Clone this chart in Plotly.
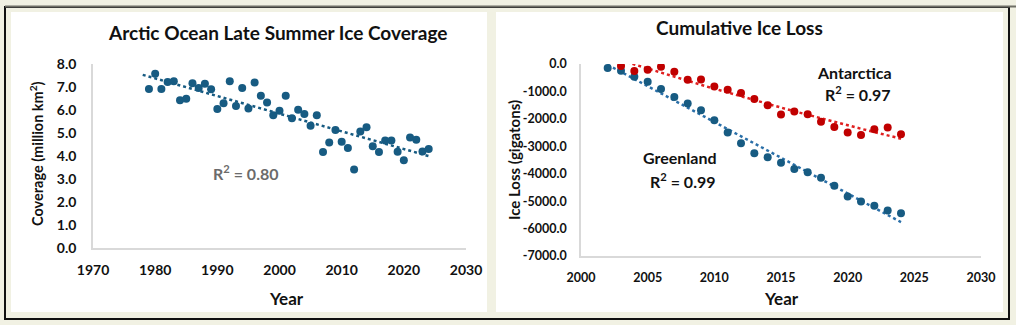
import numpy as np
import plotly.graph_objects as go

# ---------------- data ----------------
arctic_years = list(range(1979, 2025))
arctic_cov = [6.91, 7.58, 6.91, 7.22, 7.25, 6.42, 6.49, 7.16, 6.96, 7.14,
              6.90, 6.04, 6.29, 7.25, 6.17, 6.96, 6.06, 7.20, 6.62, 6.33,
              5.77, 5.97, 6.62, 5.64, 6.01, 5.83, 5.32, 5.77, 4.17, 4.59,
              5.13, 4.62, 4.35, 3.41, 5.07, 5.25, 4.42, 4.17, 4.67, 4.67,
              4.19, 3.81, 4.80, 4.71, 4.20, 4.30]

green_years = list(range(2002, 2025))
green_loss = [-146, -244, -463, -646, -915, -1207, -1439, -1683, -2049, -2500,
              -2890, -3256, -3402, -3598, -3829, -3951, -4146, -4439, -4829,
              -5012, -5171, -5341, -5439]

ant_years = list(range(2003, 2025))
ant_loss = [-73, -256, -207, -98, -280, -573, -561, -817, -939, -1061, -1280,
            -1500, -1841, -1732, -1829, -2110, -2293, -2500, -2585, -2378,
            -2317, -2561]

left_yticks = [0, 1, 2, 3, 4, 5, 6, 7, 8]
left_xticks = [1970, 1980, 1990, 2000, 2010, 2020, 2030]
right_yticks = [0, -1000, -2000, -3000, -4000, -5000, -6000, -7000]
right_xticks = [2000, 2005, 2010, 2015, 2020, 2025, 2030]

# ---------------- styling ----------------
W, H = 1016, 325
BG = "#f1f1e3"
BLUE = "#175b82"
BLUE_TR = "#2a6fa8"
RED = "#c00000"
RED_TR = "#e02020"
FONT = "Lato"


def px(x, y):
    return x / W, 1 - y / H


fig = go.Figure()

# Arctic
fig.add_trace(go.Scatter(x=arctic_years, y=arctic_cov, mode="markers",
                         marker=dict(size=8, color=BLUE), xaxis="x", yaxis="y",
                         showlegend=False))
c = np.polyfit(arctic_years, arctic_cov, 1)
tx = np.array([min(arctic_years) - 1, max(arctic_years)])
fig.add_trace(go.Scatter(x=tx, y=np.polyval(c, tx), mode="lines",
                         line=dict(color=BLUE, dash="dot", width=2.5),
                         xaxis="x", yaxis="y", showlegend=False))

# Greenland
cg = np.polyfit(green_years, green_loss, 1)
txg = np.array([min(green_years), max(green_years)])
fig.add_trace(go.Scatter(x=txg, y=np.polyval(cg, txg), mode="lines",
                         line=dict(color=BLUE_TR, dash="dot", width=2.5),
                         xaxis="x2", yaxis="y2", showlegend=False))
# Antarctica
ca = np.polyfit(ant_years, ant_loss, 2)
txa = np.linspace(min(ant_years), max(ant_years), 60)
fig.add_trace(go.Scatter(x=txa, y=np.polyval(ca, txa), mode="lines",
                         line=dict(color=RED_TR, dash="dot", width=2.5),
                         xaxis="x2", yaxis="y2", showlegend=False))
fig.add_trace(go.Scatter(x=green_years, y=green_loss, mode="markers",
                         marker=dict(size=8, color=BLUE), xaxis="x2", yaxis="y2",
                         showlegend=False))
fig.add_trace(go.Scatter(x=ant_years, y=ant_loss, mode="markers",
                         marker=dict(size=8, color=RED), xaxis="x2", yaxis="y2",
                         showlegend=False))

tickfont_l = dict(family=FONT, size=14, color="#111111", weight="bold")
tickfont_r = dict(family=FONT, size=12.5, color="#111111", weight="bold")
axis_common = dict(showgrid=False, zeroline=False, showline=True,
                   linecolor="#d9d9d9", linewidth=1.5, ticks="outside",
                   tickcolor="rgba(0,0,0,0)",
                   fixedrange=True, automargin=False)

fig.update_layout(
    template="none",
    width=W, height=H,
    margin=dict(l=0, r=0, t=0, b=0, pad=0),
    paper_bgcolor=BG, plot_bgcolor="rgba(0,0,0,0)",
    showlegend=False,
    xaxis=dict(domain=[93 / W, 466 / W], range=[1970, 2030],
               tickvals=left_xticks, ticklen=8, anchor="y",
               tickfont=tickfont_l, **axis_common),
    yaxis=dict(domain=[1 - 248 / H, 1 - 64 / H], range=[0, 8],
               tickvals=left_yticks, ticktext=[f"{v:.1f}" for v in left_yticks],
               ticklen=12, anchor="x", tickfont=tickfont_l, **axis_common),
    xaxis2=dict(domain=[581 / W, 981 / W], range=[2000, 2030],
                tickvals=right_xticks, ticklen=9, anchor="y2",
                tickfont=tickfont_r, **axis_common),
    yaxis2=dict(domain=[1 - 256 / H, 1 - 64 / H], range=[-7000, 0],
                tickvals=right_yticks,
                ticktext=[f"{v:.1f}" for v in right_yticks],
                ticklen=10, anchor="x2", tickfont=tickfont_r, **axis_common),
)

# panels
shapes = [
    dict(type="rect", xref="paper", yref="paper",
         x0=5 / W, x1=1009 / W, y0=1 - 319 / H, y1=1 - 7 / H,
         line=dict(color="#111111", width=2), fillcolor=BG, layer="below"),
    dict(type="line", xref="paper", yref="paper",
         x0=5 / W, x1=1016 / W, y0=1 - 6.5 / H, y1=1 - 6.5 / H,
         line=dict(color="#6f6f66", width=2), layer="below"),
    dict(type="rect", xref="paper", yref="paper",
         x0=11 / W, x1=487 / W, y0=1 - 312 / H, y1=1 - 12 / H,
         line=dict(width=0), fillcolor="white", layer="below"),
    dict(type="rect", xref="paper", yref="paper",
         x0=496 / W, x1=1003 / W, y0=1 - 312 / H, y1=1 - 12 / H,
         line=dict(width=0), fillcolor="white", layer="below"),
]
fig.update_layout(shapes=shapes)


def ann(text, x, y, size, color="#111111", angle=0):
    ax, ay = px(x, y)
    fig.add_annotation(text=text, x=ax, y=ay, xref="paper", yref="paper",
                       showarrow=False, textangle=angle,
                       xanchor="center", yanchor="middle",
                       font=dict(family=FONT, size=size, color=color,
                                 weight="bold"))


ann("Arctic Ocean Late Summer Ice Coverage", 277, 32, 19)
ann("Cumulative Ice Loss", 739, 28, 19)
ann("Year", 286, 298, 17)
ann("Year", 781, 298, 17)
ann("Coverage (million km<sup>2</sup>)", 36, 154, 14.5, angle=-90)
ann("Ice Loss (gigatons)", 514, 160, 15, angle=-90)
ann("R<sup>2</sup> = 0.80", 246, 172, 16, color="#6b6b6b")
ann("Antarctica", 854, 72, 16)
ann("R<sup>2</sup> = 0.97", 858, 93, 16)
ann("Greenland", 680, 157, 16)
ann("R<sup>2</sup> = 0.99", 683, 180, 16)

fig.write_html("out.html")
